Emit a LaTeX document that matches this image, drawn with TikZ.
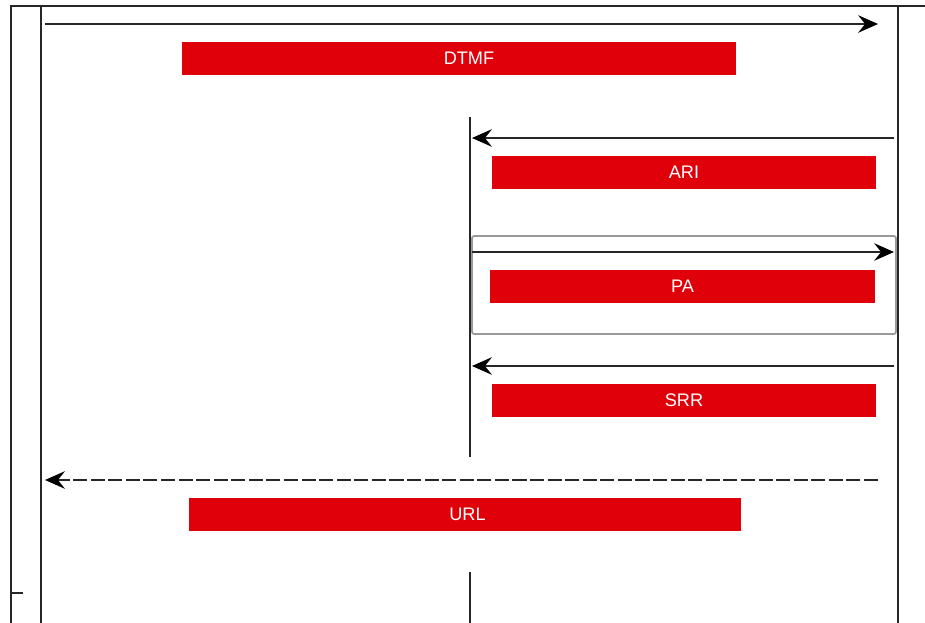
\documentclass[tikz,border=0pt]{standalone}
\usepackage{fontspec}
\setmainfont{Liberation Sans}
\usetikzlibrary{arrows.meta, positioning}
\definecolor{sigred}{RGB}{224,0,10}

\begin{document}
\begin{tikzpicture}[x=0.03cm, y=-0.03cm,
        lbl/.style={fill=sigred, text=white, inner sep=0pt, minimum height=0.99cm, font=\fontsize{15.5}{17}\selectfont},
        msg/.style={-{Stealth[length=17pt, width=15pt, inset=6pt, black]}, line width=0.9pt, black!85},
        life/.style={line width=1pt, black!85}]
        \useasboundingbox (0,0) rectangle (925,623);

        % frame and lifelines
        \coordinate (fl) at (11,6);
        \coordinate (fr) at (925,6);
        \coordinate (fb) at (11,623);
        \coordinate (tick) at (23,593);
        \coordinate (l1t) at (41,6);
        \coordinate (l1b) at (41,623);
        \coordinate (l3t) at (898,6);
        \coordinate (l3b) at (898,623);
        \coordinate (l2t) at (470,117);
        \coordinate (l2m) at (470,457);
        \coordinate (l2n) at (470,572);
        \coordinate (l2b) at (470,623);

        \draw[life] (fb) -- (fl) -- (fr)
            (fb |- tick) -- (tick);
        \draw[life] (l1t) -- (l1b)
            (l3t) -- (l3b)
            (l2t) -- (l2m)
            (l2n) -- (l2b);

        % group box
        \node[draw=gray!80, line width=1.5pt, rounded corners=2pt, minimum width=12.72cm, minimum height=2.94cm] (grp) at (684,285) {};

        % labels
        \node[lbl, minimum width=16.59cm] (dtmf) at (459,58.5) {\hspace*{0.6cm}DTMF};
        \node[lbl, minimum width=11.52cm] (ari) at (684,172.5) {ARI};
        \node[lbl, minimum width=11.55cm] (pa) at (682.5,286.5) {PA};
        \node[lbl, minimum width=11.52cm] (srr) at (684,400) {SRR};
        \node[lbl, minimum width=16.56cm] (url) at (465,514) {\hspace*{0.15cm}URL};

        % messages
        \coordinate (a1) at (45,24);
        \coordinate (b1) at (878,24);
        \coordinate (a2) at (894,138);
        \coordinate (b2) at (472,138);
        \coordinate (a3) at (472,252);
        \coordinate (b3) at (894,252);
        \coordinate (a4) at (894,366);
        \coordinate (b4) at (472,366);
        \coordinate (a5) at (878,480);
        \coordinate (b5) at (45,480);

        \draw[msg] (a1) -- (b1);
        \draw[msg] (a2) -- (b2);
        \draw[msg] (a3) -- (b3);
        \draw[msg] (a4) -- (b4);
        \draw[msg, dash pattern=on 12pt off 3pt] (a5) -- (b5);
    \end{tikzpicture}
\end{document}
